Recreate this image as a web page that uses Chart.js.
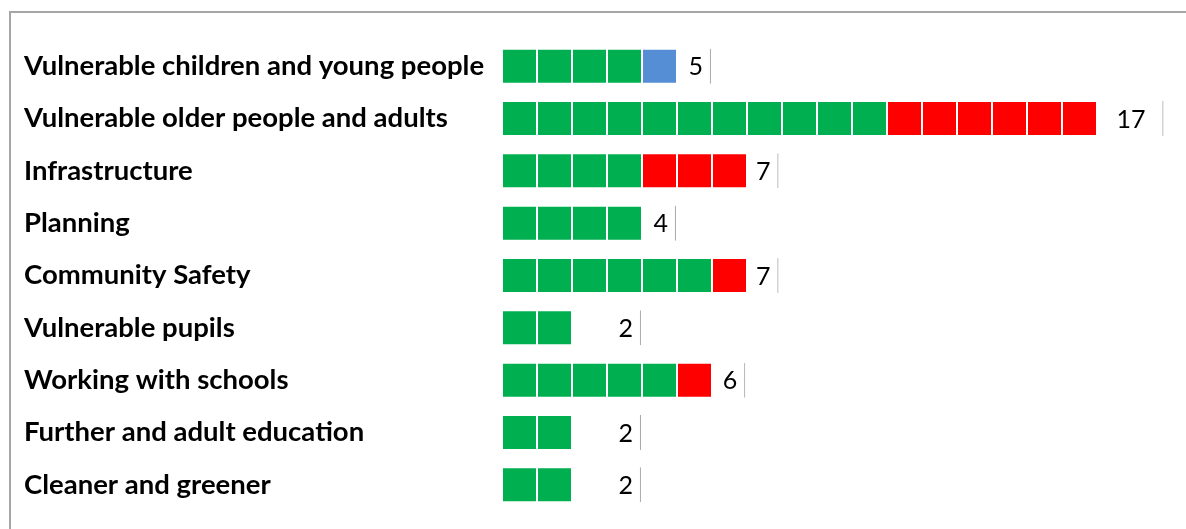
<!DOCTYPE html>
<html>
<head>
<meta charset="utf-8">
<script src="https://cdn.jsdelivr.net/npm/chart.js@4.4.1/dist/chart.umd.min.js"></script>
<style>
  html, body { margin: 0; padding: 0; background: #fff; overflow: hidden; }
  #frame { position: absolute; left: 9px; top: 11px; width: 1200px; height: 540px; border: 2px solid #a6a6a6; box-sizing: border-box; }
  #wrap { position: absolute; left: 0; top: 0; width: 1186px; height: 529px; }
</style>
</head>
<body>
<div id="frame"></div>
<div id="wrap"><canvas id="grafico" width="1186" height="529"></canvas></div>
<script>
const categorias = [
  'Vulnerable children and young people',
  'Vulnerable older people and adults',
  'Infrastructure',
  'Planning',
  'Community Safety',
  'Vulnerable pupils',
  'Working with schools',
  'Further and adult education',
  'Cleaner and greener'
];
const verdes   = [4, 11, 4, 4, 6, 2, 5, 2, 2];
const vermelhos = [0, 6, 3, 0, 1, 0, 1, 0, 0];
const azuis    = [1, 0, 0, 0, 0, 0, 0, 0, 0];
// where the total label box ends (in units)
const fimRotulo = [5.97, 18.9, 7.9, 4.97, 7.9, 3.97, 6.95, 3.97, 3.97];

const totais = categorias.map((c, i) => verdes[i] + vermelhos[i] + azuis[i]);
const maxTotal = Math.max(...totais);

const VERDE = '#00b050', VERMELHO = '#ff0000', AZUL = '#558ed5';

const datasets = [];
for (let k = 0; k < maxTotal; k++) {
  datasets.push({
    label: 'u' + k,
    data: totais.map(t => (k < t ? 1 : 0)),
    backgroundColor: totais.map((t, i) => k < verdes[i] ? VERDE : (k < verdes[i] + vermelhos[i] ? VERMELHO : AZUL)),
    borderColor: '#ffffff',
    borderWidth: 1,
    borderSkipped: false,
    stack: 's'
  });
}
datasets.push({
  label: 'total',
  data: totais.map((t, i) => fimRotulo[i] - t),
  backgroundColor: 'rgba(0,0,0,0)',
  borderColor: '#a6a6a6',
  borderWidth: { top: 0, bottom: 0, left: 0, right: 1 },
  borderSkipped: false,
  stack: 's'
});

const rotulosTotais = {
  id: 'rotulosTotais',
  afterDatasetsDraw(chart) {
    const ctx = chart.ctx;
    const meta = chart.getDatasetMeta(chart.data.datasets.length - 1);
    ctx.save();
    ctx.font = '25px Lato';
    ctx.fillStyle = '#000';
    ctx.textAlign = 'right';
    ctx.textBaseline = 'middle';
    meta.data.forEach((bar, i) => {
      // the wide 17 row sits more to the left in the original
      const recuo = totais[i] > 9 ? 18 : 8;
      ctx.fillText(String(totais[i]), bar.x - recuo, bar.y + 1);
    });
    ctx.restore();
  }
};

const ctx = document.getElementById('grafico').getContext('2d');
new Chart(ctx, {
  type: 'bar',
  data: { labels: categorias, datasets: datasets },
  options: {
    indexAxis: 'y',
    responsive: false,
    animation: false,
    barPercentage: 0.67,
    categoryPercentage: 1,
    layout: { padding: { left: 24, right: 19, top: 40, bottom: 18 } },
    plugins: { legend: { display: false }, tooltip: { enabled: false } },
    scales: {
      x: { stacked: true, min: 0, max: 19, display: false },
      y: {
        stacked: true,
        grid: { display: false },
        border: { display: false },
        ticks: {
          crossAlign: 'far',
          color: '#000',
          padding: 0,
          font: { family: 'Lato', size: 27.5, weight: 'bold' }
        },
        afterFit(scale) { scale.width = 478; }
      }
    }
  },
  plugins: [rotulosTotais]
});
</script>
</body>
</html>
